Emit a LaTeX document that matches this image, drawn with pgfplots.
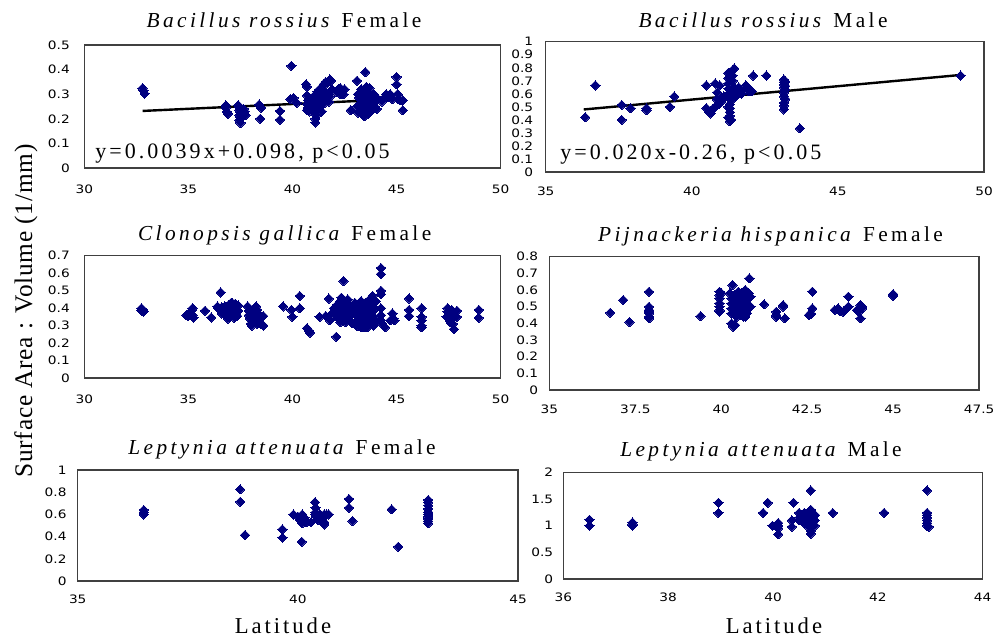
\documentclass[border=0pt]{standalone}
\usepackage{fontspec}
\setmainfont{Liberation Serif}
\newfontfamily\tickfont[FakeStretch=1.18]{DejaVu Sans}
\newfontfamily\titlefont[LetterSpace=16]{Liberation Serif}
\newfontfamily\eqfont[LetterSpace=14]{Liberation Serif}
\newfontfamily\latfont[LetterSpace=13]{Liberation Serif}
\newfontfamily\ylabfont[LetterSpace=3]{Liberation Serif}
\usepackage{pgfplots}
\pgfplotsset{compat=1.18}
\definecolor{navy}{RGB}{0,0,128}
\pgfplotsset{
  panel/.style={
    scale only axis, anchor=south west,
    axis line style={draw=black!75, line width=0.9pt},
    major tick length=0pt, tick style={draw=none},
    /pgf/number format/assume math mode=true,
    xticklabel={\tickfont\fontsize{8.7}{10}\selectfont\pgfmathprintnumber[assume math mode=true]{\tick}},
    yticklabel={\tickfont\fontsize{8.7}{10}\selectfont\pgfmathprintnumber[assume math mode=true]{\tick}},
    xticklabel style={anchor=north, inner sep=0pt},
    yticklabel style={anchor=east, inner sep=0pt},
  },
  pts/.style={only marks, mark=square*, mark size=2.45pt,
    mark options={rotate=45, fill=navy, draw=navy, line width=0pt}},
  fit/.style={draw=black, line width=1.8pt, mark=none, sharp plot},
}
\newcommand{\ttl}{\titlefont\fontsize{16}{18}\selectfont}
\newcommand{\eqf}{\eqfont\fontsize{16.5}{18}\selectfont}
\begin{document}
\begin{tikzpicture}
\useasboundingbox (0,0) rectangle (746.25pt,-477.75pt);

% Panel 1
\begin{axis}[panel, at={(63.2pt,-126pt)}, width=312.3pt, height=92.25pt,
  xmin=30, xmax=50, ymin=0, ymax=0.5, xtick={30,35,40,45,50},
  ytick={0,0.1,0.2,0.3,0.4,0.5},
  xticklabel style={yshift=-12.75pt}, yticklabel style={xshift=-10.7pt}]
\addplot[pts] coordinates {
(32.8,0.325)(32.85,0.315)(32.9,0.302)
(36.8,0.255)(36.8,0.245)(36.85,0.228)(36.9,0.22)
(37.4,0.255)(37.45,0.245)(37.45,0.235)(37.5,0.225)(37.45,0.215)(37.5,0.205)(37.45,0.195)(37.5,0.183)
(37.65,0.24)(37.7,0.23)(37.65,0.222)(37.75,0.215)
(38.4,0.258)(38.5,0.245)(38.45,0.2)
(39.4,0.232)(39.4,0.196)
(39.95,0.415)(39.9,0.28)(40.05,0.285)(40.2,0.265)
(40.65,0.34)(40.7,0.33)(40.7,0.295)(40.75,0.275)(40.7,0.26)(40.75,0.245)(40.7,0.235)(40.8,0.23)
(41.0,0.29)(41.05,0.28)(41.05,0.27)(41.1,0.26)(41.0,0.25)(41.1,0.24)(41.05,0.23)(41.15,0.215)(41.1,0.2)(41.1,0.185)
(41.2,0.31)(41.25,0.3)(41.3,0.32)(41.35,0.29)(41.3,0.275)(41.25,0.26)(41.3,0.245)(41.4,0.23)
(41.45,0.33)(41.5,0.34)(41.55,0.31)(41.5,0.295)(41.6,0.28)(41.55,0.265)(41.6,0.35)
(41.7,0.35)(41.75,0.355)(41.8,0.36)(41.85,0.355)(41.7,0.3)(41.8,0.29)(41.75,0.27)(41.9,0.32)
(42.1,0.31)(42.2,0.32)(42.3,0.325)(42.4,0.31)(42.5,0.32)(42.45,0.3)(42.3,0.3)
(42.8,0.235)
(43.1,0.355)(43.15,0.3)(43.1,0.25)(43.15,0.225)(43.2,0.285)
(43.3,0.32)(43.35,0.3)(43.3,0.28)(43.4,0.26)(43.35,0.24)(43.4,0.22)(43.45,0.21)
(43.5,0.39)(43.55,0.33)(43.5,0.31)(43.6,0.29)(43.55,0.27)(43.6,0.25)(43.55,0.235)(43.65,0.22)
(43.7,0.325)(43.75,0.3)(43.8,0.28)(43.7,0.26)(43.8,0.245)(43.75,0.23)
(43.9,0.3)(44.0,0.29)(44.0,0.27)(44.1,0.28)(43.95,0.25)(44.05,0.24)
(44.3,0.27)(44.4,0.285)(44.5,0.3)(44.6,0.29)(44.7,0.3)(44.8,0.28)
(45.0,0.37)(45.0,0.34)(45.05,0.3)(45.1,0.28)(45.2,0.275)(45.3,0.275)(45.3,0.235)
};
\addplot[fit] coordinates {(32.8,0.232) (45.3,0.281)};
\end{axis}

% Panel 2
\begin{axis}[panel, at={(409.3pt,-129pt)}, width=328.7pt, height=97.7pt,
  xmin=35, xmax=50, ymin=0, ymax=1, xtick={35,40,45,50},
  ytick={0,0.1,0.2,0.3,0.4,0.5,0.6,0.7,0.8,0.9,1},
  xticklabel style={yshift=-11pt}, yticklabel style={xshift=-9.3pt}]
\addplot[pts] coordinates {
(36.35,0.42)(36.7,0.665)(37.6,0.515)(37.6,0.40)(37.9,0.49)(38.45,0.49)(38.45,0.475)(39.25,0.50)(39.4,0.58)
(40.5,0.665)(40.5,0.49)(40.6,0.46)(40.7,0.48)(40.8,0.5)(40.9,0.52)(41.0,0.54)(40.65,0.45)
(40.8,0.68)(40.87,0.61)(40.85,0.56)(40.95,0.665)(41.05,0.57)(41.1,0.58)
(41.25,0.76)(41.25,0.72)(41.25,0.68)(41.25,0.64)(41.25,0.6)(41.3,0.56)(41.3,0.52)(41.3,0.49)(41.3,0.46)(41.3,0.43)(41.35,0.4)(41.3,0.39)(41.25,0.42)(41.25,0.5)(41.35,0.62)(41.35,0.55)
(41.4,0.78)(41.45,0.795)(41.4,0.74)(41.4,0.7)(41.45,0.65)(41.5,0.6)(41.55,0.63)(41.6,0.65)(41.65,0.62)(41.5,0.58)(41.7,0.6)
(41.85,0.665)(41.9,0.64)(41.95,0.62)(42.0,0.63)(42.05,0.62)
(42.1,0.74)(42.55,0.74)
(43.15,0.71)(43.15,0.69)(43.15,0.67)(43.15,0.65)(43.2,0.63)(43.15,0.61)(43.15,0.58)(43.2,0.56)(43.15,0.53)(43.15,0.51)(43.15,0.48)(43.2,0.695)(43.2,0.66)
(43.7,0.335)(49.2,0.74)
};
\addplot[fit] coordinates {(36.3,0.48) (49.2,0.745)};
\end{axis}

% Panel 3
\begin{axis}[panel, at={(63.2pt,-283.5pt)}, width=312.3pt, height=91.7pt,
  xmin=30, xmax=50, ymin=0, ymax=0.7, xtick={30,35,40,45,50},
  ytick={0,0.1,0.2,0.3,0.4,0.5,0.6,0.7},
  xticklabel style={yshift=-12.75pt}, yticklabel style={xshift=-10.7pt}]
\addplot[pts] coordinates {
(32.75,0.40)(32.8,0.39)(32.85,0.38)(32.75,0.385)
(34.9,0.36)(35.0,0.355)(35.1,0.37)(35.15,0.385)(35.2,0.40)(35.25,0.345)(35.2,0.36)
(35.8,0.385)(36.1,0.347)
(36.4,0.41)(36.45,0.40)(36.55,0.49)(36.6,0.405)(36.65,0.39)(36.7,0.38)(36.75,0.41)(36.8,0.36)(36.85,0.395)(36.9,0.375)(36.95,0.42)(37.0,0.40)(37.0,0.35)(37.05,0.38)(37.1,0.43)(37.1,0.365)(37.15,0.41)(37.2,0.39)(37.2,0.345)(37.25,0.425)(37.3,0.37)(37.3,0.40)(37.35,0.355)(37.4,0.385)(37.4,0.415)(36.5,0.39)(36.6,0.37)(36.9,0.34)(37.05,0.43)
(37.85,0.41)(37.9,0.385)(37.9,0.36)(37.95,0.34)(38.0,0.31)(38.05,0.30)(38.1,0.37)(38.15,0.35)(38.2,0.33)(38.25,0.41)(38.3,0.39)(38.3,0.31)(38.35,0.37)(38.4,0.35)(38.4,0.33)(37.95,0.39)(38.05,0.325)
(38.6,0.355)(38.6,0.30)(38.5,0.31)
(39.55,0.41)(39.95,0.39)(40.0,0.35)(40.35,0.47)(40.35,0.40)(40.7,0.285)(40.8,0.27)(40.85,0.26)
(41.3,0.35)(41.6,0.355)(41.75,0.455)(41.8,0.33)(41.9,0.37)(42.0,0.40)(42.1,0.236)
(42.0,0.38)(42.1,0.36)(42.15,0.42)(42.2,0.34)(42.2,0.39)(42.3,0.44)(42.3,0.37)(42.35,0.46)(42.4,0.33)(42.4,0.40)(42.45,0.555)(42.5,0.36)(42.5,0.43)(42.55,0.32)(42.6,0.38)(42.6,0.345)(42.7,0.41)(42.75,0.33)(42.8,0.36)(42.85,0.315)(42.9,0.39)(42.3,0.32)(42.45,0.35)(42.65,0.45)
(43.0,0.43)(43.05,0.40)(43.05,0.36)(43.1,0.33)(43.1,0.30)(43.15,0.42)(43.2,0.38)(43.2,0.35)(43.25,0.32)(43.3,0.29)(43.3,0.44)(43.35,0.41)(43.4,0.37)(43.4,0.34)(43.45,0.31)(43.5,0.39)(43.5,0.43)(43.55,0.36)(43.6,0.33)(43.6,0.29)(43.65,0.40)(43.7,0.45)(43.7,0.37)(43.75,0.34)(43.8,0.31)(43.8,0.42)(43.85,0.47)(43.85,0.38)(43.9,0.35)(43.9,0.30)(43.95,0.40)(44.0,0.44)(44.0,0.33)(43.15,0.30)(43.45,0.29)
(44.25,0.63)(44.25,0.595)(44.25,0.50)(44.25,0.48)(44.25,0.40)(44.25,0.36)(44.25,0.33)(44.3,0.31)(44.45,0.29)
(44.7,0.33)(44.8,0.37)(44.85,0.34)(44.9,0.33)
(45.6,0.455)(45.6,0.39)(45.6,0.355)
(46.2,0.40)(46.2,0.35)(46.2,0.33)(46.2,0.30)(46.2,0.29)
(47.45,0.40)(47.45,0.38)(47.4,0.35)(47.5,0.34)(47.55,0.33)(47.65,0.39)(47.7,0.36)(47.7,0.31)(47.75,0.28)(47.6,0.32)(47.9,0.385)(47.9,0.35)
(48.95,0.39)(48.95,0.345)
};
\end{axis}

% Panel 4
\begin{axis}[panel, at={(412pt,-292.5pt)}, width=322.3pt, height=100pt,
  xmin=35, xmax=47.5, ymin=0, ymax=0.8, xtick={35,37.5,40,42.5,45,47.5},
  ytick={0,0.1,0.2,0.3,0.4,0.5,0.6,0.7,0.8},
  xticklabel style={yshift=-11.25pt}, yticklabel style={xshift=-8.25pt}]
\addplot[pts] coordinates {
(36.77,0.464)(37.15,0.54)(37.33,0.408)
(37.9,0.59)(37.9,0.50)(37.9,0.48)(37.9,0.46)(37.9,0.44)(37.9,0.43)(37.9,0.47)
(39.4,0.444)
(39.95,0.59)(39.95,0.57)(39.95,0.55)(39.95,0.52)(39.95,0.50)(39.95,0.48)(39.95,0.47)(40.0,0.58)
(40.33,0.63)(40.3,0.40)(40.35,0.38)(40.4,0.39)
(40.25,0.58)(40.3,0.55)(40.3,0.52)(40.3,0.49)(40.3,0.46)(40.4,0.57)(40.4,0.54)(40.4,0.50)(40.4,0.47)(40.45,0.44)(40.5,0.59)(40.5,0.56)(40.5,0.52)(40.5,0.48)(40.55,0.45)(40.6,0.58)(40.6,0.54)(40.6,0.50)(40.6,0.47)(40.65,0.44)(40.7,0.60)(40.7,0.56)(40.7,0.52)(40.7,0.49)(40.75,0.46)(40.8,0.58)(40.8,0.55)(40.8,0.51)(40.8,0.49)(40.85,0.56)(40.85,0.50)(40.7,0.44)(40.82,0.67)
(41.25,0.514)
(41.6,0.47)(41.6,0.45)(41.6,0.44)(41.8,0.51)(41.8,0.50)(41.85,0.43)
(42.55,0.45)(42.6,0.46)(42.65,0.59)(42.65,0.49)(42.6,0.455)
(43.3,0.48)(43.4,0.49)(43.55,0.47)(43.45,0.475)
(43.7,0.56)(43.7,0.50)
(43.95,0.48)(44.0,0.47)(44.05,0.51)(44.1,0.49)(44.05,0.43)(44.1,0.50)
(45.0,0.575)(45.0,0.565)
};
\end{axis}

% Panel 5
\begin{axis}[panel, at={(58.3pt,-435.75pt)}, width=330.2pt, height=83.25pt,
  xmin=35, xmax=45, ymin=0, ymax=1, xtick={35,40,45},
  ytick={0,0.2,0.4,0.6,0.8,1},
  xticklabel style={yshift=-10.5pt}, yticklabel style={xshift=-8.25pt}]
\addplot[pts] coordinates {
(36.5,0.64)(36.5,0.60)(36.5,0.62)
(38.69,0.826)(38.69,0.714)(38.8,0.414)
(39.65,0.465)(39.65,0.39)
(39.9,0.60)(40.0,0.58)(40.05,0.55)(40.1,0.60)(40.1,0.52)(40.15,0.57)(40.2,0.53)(40.09,0.354)(40.3,0.53)
(40.39,0.71)(40.4,0.66)(40.4,0.62)(40.4,0.6)(40.42,0.58)(40.45,0.55)(40.5,0.6)(40.55,0.57)(40.55,0.55)(40.6,0.53)(40.6,0.51)(40.65,0.6)(40.7,0.6)(40.6,0.6)
(41.16,0.739)(41.16,0.66)(41.24,0.54)
(42.13,0.646)(42.28,0.309)
(42.96,0.73)(42.96,0.71)(42.96,0.68)(42.96,0.65)(42.96,0.62)(42.96,0.60)(42.96,0.58)(42.96,0.56)(42.96,0.54)(42.96,0.52)
};
\end{axis}

% Panel 6
\begin{axis}[panel, at={(422.5pt,-434.25pt)}, width=314.5pt, height=80pt,
  xmin=36, xmax=44, ymin=0, ymax=2, xtick={36,38,40,42,44},
  ytick={0,0.5,1,1.5,2},
  xticklabel style={yshift=-10.3pt}, yticklabel style={xshift=-7.5pt}]
\addplot[pts] coordinates {
(36.5,1.11)(36.5,1.0)
(37.32,1.06)(37.32,1.0)(37.32,1.03)
(38.96,1.43)(38.96,1.24)
(39.81,1.24)(39.9,1.43)(39.99,1.0)
(40.1,1.05)(40.1,1.0)(40.1,0.95)(40.1,0.84)
(40.36,1.1)(40.36,0.98)(40.39,1.43)
(40.5,1.24)(40.55,1.2)(40.5,1.15)(40.55,1.1)(40.6,1.05)(40.6,1.24)(40.65,1.0)(40.5,1.1)(40.6,1.15)
(40.72,1.66)(40.72,1.3)(40.72,1.25)(40.72,1.2)(40.72,1.15)(40.72,1.1)(40.72,1.05)(40.72,1.0)(40.72,0.9)(40.72,0.85)
(40.8,1.2)(40.8,1.1)(40.8,1.0)
(41.14,1.24)(42.12,1.24)
(42.94,1.66)(42.94,1.24)(42.94,1.2)(42.94,1.15)(42.94,1.1)(42.94,1.05)(42.94,1.0)(42.97,0.98)
};
\end{axis}

% Titles
\node[font=\ttl, anchor=base] at (213pt,-20.75pt) {\textit{Bacillus rossius} Female};
\node[font=\ttl, anchor=base] at (572.25pt,-20.75pt) {\textit{Bacillus rossius} Male};
\node[font=\ttl, anchor=base] at (213.5pt,-180pt) {\textit{Clonopsis gallica} Female};
\node[font=\ttl, anchor=base] at (577.9pt,-180.75pt) {\textit{Pijnackeria hispanica} Female};
\node[font=\ttl, anchor=base] at (211.5pt,-340.75pt) {\textit{Leptynia attenuata} Female};
\node[font=\ttl, anchor=base] at (570.75pt,-342pt) {\textit{Leptynia attenuata} Male};
% Equations
\node[font=\eqf, anchor=base west, inner sep=0pt] at (71.25pt,-118.75pt) {y=0.0039x+0.098, p<0.05};
\node[font=\eqf, anchor=base west, inner sep=0pt] at (420pt,-119.5pt) {y=0.020x-0.26, p<0.05};
% Axis labels
\node[font=\latfont\fontsize{17}{19}\selectfont, anchor=base] at (212.25pt,-474.75pt) {Latitude};
\node[font=\latfont\fontsize{17}{19}\selectfont, anchor=base] at (580.5pt,-474.75pt) {Latitude};
\node[font=\ylabfont\fontsize{19}{22}\selectfont, anchor=base, rotate=90] at (24pt,-233.25pt) {Surface Area : Volume (1/mm)};
\end{tikzpicture}
\end{document}
